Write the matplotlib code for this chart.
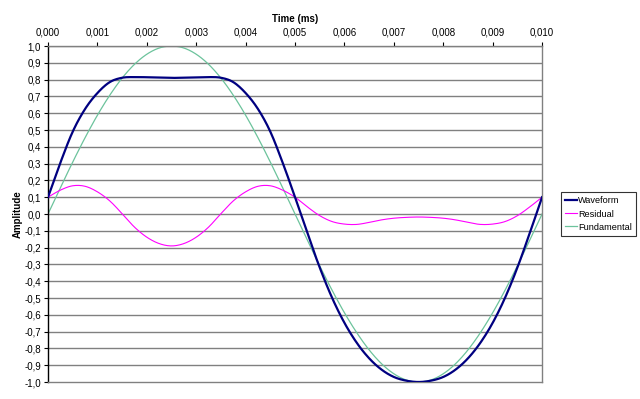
import numpy as np
import matplotlib.pyplot as plt
from matplotlib.ticker import FuncFormatter

plt.rcParams['font.family'] = ['Liberation Sans', 'DejaVu Sans']

# time in ms, sampled every 0.00025
time_ms = [i * 0.00025 for i in range(41)]

fundamental = [0.000, 0.156, 0.309, 0.454, 0.588, 0.707, 0.809, 0.891, 0.951, 0.988,
               1.000, 0.988, 0.951, 0.891, 0.809, 0.707, 0.588, 0.454, 0.309, 0.156,
               0.000, -0.156, -0.309, -0.454, -0.588, -0.707, -0.809, -0.891, -0.951, -0.988,
               -1.000, -0.988, -0.951, -0.891, -0.809, -0.707, -0.588, -0.454, -0.309, -0.156,
               0.000]

residual = [0.100, 0.142, 0.168, 0.165, 0.132, 0.078, 0.002, -0.078, -0.138, -0.176,
            -0.190, -0.176, -0.138, -0.078, 0.002, 0.078, 0.132, 0.165, 0.168, 0.142,
            0.100, 0.042, -0.010, -0.045, -0.060, -0.062, -0.050, -0.035, -0.025, -0.020,
            -0.018, -0.020, -0.025, -0.035, -0.050, -0.062, -0.060, -0.045, -0.010, 0.042,
            0.100]

waveform = [0.100, 0.305, 0.490, 0.625, 0.720, 0.785, 0.811, 0.815, 0.814, 0.812,
            0.810, 0.812, 0.814, 0.815, 0.811, 0.785, 0.720, 0.625, 0.490, 0.305,
            0.100, -0.114, -0.319, -0.499, -0.648, -0.767, -0.859, -0.926, -0.970, -0.992,
            -1.000, -0.992, -0.970, -0.926, -0.859, -0.767, -0.648, -0.499, -0.319, -0.114,
            0.100]

x_ticks = [i * 0.001 for i in range(11)]
y_ticks = [round(-1.0 + i * 0.1, 1) for i in range(21)]


def smooth(xs, ys, n=12):
    # catmull-rom through the points, like excel's smoothed line
    xs = np.asarray(xs, float)
    ys = np.asarray(ys, float)
    px = np.concatenate([[2 * xs[0] - xs[1]], xs, [2 * xs[-1] - xs[-2]]])
    py = np.concatenate([[2 * ys[0] - ys[1]], ys, [2 * ys[-1] - ys[-2]]])
    out_x, out_y = [], []
    t = np.linspace(0, 1, n, endpoint=False)
    for i in range(1, len(px) - 2):
        for p, out in ((px, out_x), (py, out_y)):
            p0, p1, p2, p3 = p[i - 1], p[i], p[i + 1], p[i + 2]
            out.extend(0.5 * (2 * p1 + (-p0 + p2) * t + (2 * p0 - 5 * p1 + 4 * p2 - p3) * t ** 2
                              + (-p0 + 3 * p1 - 3 * p2 + p3) * t ** 3))
    out_x.append(xs[-1])
    out_y.append(ys[-1])
    return out_x, out_y


fig = plt.figure(figsize=(6.4, 3.99), dpi=100)
ax = fig.add_axes([0.075, 0.0426, 0.772, 0.8421])

for y in y_ticks[1:]:
    ax.axhline(y, color='#808080', lw=1.0, zorder=1)

ax.plot(*smooth(time_ms, waveform), color='#000080', lw=1.6, label='Waveform', zorder=4)
ax.plot(*smooth(time_ms, residual), color='#ff00ff', lw=0.8, label='Residual', zorder=3)
ax.plot(*smooth(time_ms, fundamental), color='#6cc39c', lw=0.9, label='Fundamental', zorder=2)

ax.set_xlim(0, 0.010)
ax.set_ylim(-1.0, 1.0)
ax.set_xticks(x_ticks)
ax.set_yticks(y_ticks)
ax.xaxis.set_major_formatter(FuncFormatter(lambda v, p: f'{v:.3f}'.replace('.', ',')))
ax.yaxis.set_major_formatter(FuncFormatter(lambda v, p: f'{v:.1f}'.replace('.', ',').replace('-0,0', '0,0')))
ax.xaxis.tick_top()
ax.xaxis.set_label_position('top')
ax.tick_params(axis='both', labelsize=7, length=3, width=0.8, color='black', pad=2)
ax.tick_params(axis='x', pad=3)

for side in ['top', 'right', 'bottom']:
    ax.spines[side].set_color('#808080')
    ax.spines[side].set_linewidth(1.0)
ax.spines['left'].set_color('black')
ax.spines['left'].set_linewidth(1.0)

ax.set_xlabel('Time (ms)', fontsize=7, fontweight='bold', labelpad=4)
ax.set_ylabel('Amplitude', fontsize=7, fontweight='bold', labelpad=1)

leg = ax.legend(loc='center left', bbox_to_anchor=(1.038, 0.5), fontsize=6.6,
                frameon=True, fancybox=False, handlelength=1.3, handletextpad=0.1,
                borderpad=0.45, labelspacing=0.45, borderaxespad=0)
leg.get_frame().set_edgecolor('black')
leg.get_frame().set_linewidth(0.8)

fig.savefig('out.png', dpi=100)
